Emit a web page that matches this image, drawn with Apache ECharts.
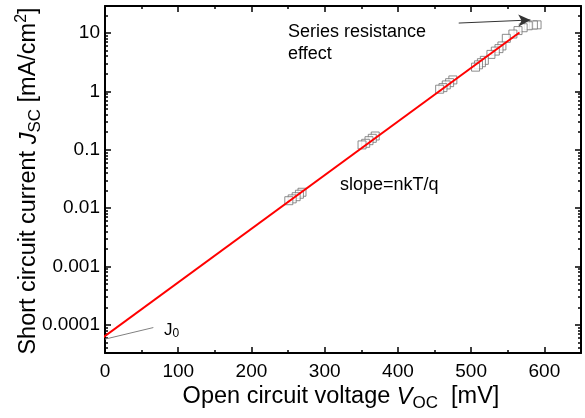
<!DOCTYPE html>
<html>
<head>
<meta charset="utf-8">
<script src="https://cdn.jsdelivr.net/npm/echarts@6/dist/echarts.min.js"></script>
<style>
  html, body { margin: 0; background: #fff; }
  #chart { width: 585px; height: 418px; }
</style>
</head>
<body>
<div id="chart"></div>
<script>
// measured points (Voc in mV, Jsc in mA/cm2)
const vocData = [251, 255.6, 261, 265.5, 269,
  351, 356, 360.5, 365, 369,
  457, 461.5, 466, 470.6, 475,
  506, 510, 514, 518,
  527, 533, 538, 542,
  548, 557, 564, 571, 578, 585, 590];
const jscData = [0.0134, 0.0144, 0.0157, 0.0173, 0.0187,
  0.121, 0.129, 0.143, 0.157, 0.172,
  1.09, 1.16, 1.29, 1.41, 1.57,
  2.6, 2.85, 3.1, 3.4,
  4.3, 4.9, 5.4, 6.0,
  8.1, 9.6, 11.0, 12.3, 13.3, 13.7, 13.8];

// fitted line end points
const fitVoc = [-11, 566];
const fitJsc = [5.1e-5, 10.2];

// annotation pointers
const arrowFrom = [483, 14.8];
const arrowTo = [581, 16.7];
const j0From = [0, 5.7e-5];
const j0To = [66, 9.0e-5];

const yTicks = [0.0001, 0.001, 0.01, 0.1, 1, 10];
const decades = [0.00001, 0.0001, 0.001, 0.01, 0.1, 1, 10];
const yMinor = [];
decades.forEach(d => {
  for (let k = 2; k <= 9; k++) yMinor.push(+(d * k).toPrecision(3));
});

const FONT = "'Liberation Sans', Arial, sans-serif";
const chart = echarts.init(document.getElementById('chart'));

const points = vocData.map((v, i) => [v, jscData[i]]).reverse();
const fitLine = fitVoc.map((v, i) => [v, fitJsc[i]]);

const yBase = {
  type: 'log',
  min: 3.3e-5,
  max: 29,
  splitLine: { show: false },
};

chart.setOption({
  animation: false,
  grid: { left: 105, right: 4, top: 6, bottom: 65 },
  xAxis: [{
    type: 'value',
    min: 0, max: 650, interval: 100,
    axisLine: { lineStyle: { color: '#000', width: 2 } },
    axisTick: { inside: true, length: 6, lineStyle: { color: '#000', width: 1.5 } },
    minorTick: { show: true, splitNumber: 2, length: 3, lineStyle: { color: '#000', width: 1.5 } },
    axisLabel: { color: '#000', fontSize: 19, fontFamily: FONT, margin: 9,
      formatter: v => (v % 100 === 0 ? String(v) : '') },
    splitLine: { show: false },
  }, {
    type: 'value', position: 'top',
    min: 0, max: 650, interval: 100,
    axisLine: { lineStyle: { color: '#000', width: 2 } },
    axisTick: { inside: true, length: 6, lineStyle: { color: '#000', width: 1.5 } },
    minorTick: { show: true, splitNumber: 2, length: 3, lineStyle: { color: '#000', width: 1.5 } },
    axisLabel: { show: false },
    splitLine: { show: false },
  }],
  yAxis: [Object.assign({}, yBase, {
    position: 'left',
    axisLine: { lineStyle: { color: '#000', width: 2 } },
    axisTick: { inside: true, length: 6, customValues: yTicks, lineStyle: { color: '#000', width: 1.5 } },
    axisLabel: { color: '#000', fontSize: 19, fontFamily: FONT, margin: 5,
      customValues: yTicks, formatter: v => String(v) },
  }), Object.assign({}, yBase, {
    position: 'left',
    axisLine: { show: false },
    axisTick: { inside: true, length: 3, customValues: yMinor, lineStyle: { color: '#000', width: 1.5 } },
    axisLabel: { show: false },
  }), Object.assign({}, yBase, {
    position: 'right',
    axisLine: { lineStyle: { color: '#000', width: 2 } },
    axisTick: { inside: true, length: 6, customValues: yTicks, lineStyle: { color: '#000', width: 1.5 } },
    axisLabel: { show: false },
  }), Object.assign({}, yBase, {
    position: 'right',
    axisLine: { show: false },
    axisTick: { inside: true, length: 3, customValues: yMinor, lineStyle: { color: '#000', width: 1.5 } },
    axisLabel: { show: false },
  })],
  series: [{
    type: 'scatter',
    data: points,
    symbol: 'rect',
    symbolSize: 8,
    itemStyle: { color: '#fff', borderColor: '#707070', borderWidth: 1 },
    z: 2,
    markLine: {
      silent: true,
      animation: false,
      label: { show: false },
      data: [
        [{ coord: arrowFrom, symbol: 'none', lineStyle: { color: '#333', width: 1, type: 'solid' } },
         { coord: arrowTo, symbol: 'arrow', symbolSize: [9, 12] }],
        [{ coord: j0From, symbol: 'none', lineStyle: { color: '#808080', width: 1, type: 'solid' } },
         { coord: j0To, symbol: 'none' }],
      ],
      lineStyle: { type: 'solid' },
      itemStyle: { color: '#000' },
    },
  }, {
    type: 'line',
    data: fitLine,
    symbol: 'none',
    clip: false,
    lineStyle: { color: '#ff0000', width: 2 },
    z: 3,
  }],
  graphic: [{
    type: 'text', x: 288, y: 43,
    style: { text: 'Series resistance\neffect', font: '18px ' + FONT, fill: '#000',
      textVerticalAlign: 'middle', lineHeight: 22 },
  }, {
    type: 'text', x: 340, y: 185,
    style: { text: 'slope=nkT/q', font: '18px ' + FONT, fill: '#000', textVerticalAlign: 'middle' },
  }, {
    type: 'text', x: 164, y: 330,
    style: {
      text: '{a|J}{s|0}',
      textVerticalAlign: 'middle',
      rich: {
        a: { fontSize: 17, fontFamily: FONT, lineHeight: 20, fill: '#000' },
        s: { fontSize: 12, fontFamily: FONT, lineHeight: 10, verticalAlign: 'bottom', fill: '#000' },
      },
    },
  }, {
    type: 'text', x: 341, y: 397,
    style: {
      text: '{a|Open circuit voltage }{i|V}{s|OC}{a|  [mV]}',
      textAlign: 'center', textVerticalAlign: 'middle',
      rich: {
        a: { fontSize: 23.5, fontFamily: FONT, lineHeight: 30, fill: '#000' },
        i: { fontSize: 23.5, fontFamily: FONT, fontStyle: 'italic', lineHeight: 30, fill: '#000' },
        s: { fontSize: 17, fontFamily: FONT, lineHeight: 15, verticalAlign: 'bottom', fill: '#000' },
      },
    },
  }, {
    type: 'text', x: 29, y: 181, rotation: Math.PI / 2,
    style: {
      text: '{a|Short circuit current }{i|J}{s|SC}{a| [mA/cm}{p|2}{a|]}',
      textAlign: 'center', textVerticalAlign: 'middle',
      rich: {
        a: { fontSize: 23.5, fontFamily: FONT, lineHeight: 30, fill: '#000' },
        i: { fontSize: 23.5, fontFamily: FONT, fontStyle: 'italic', lineHeight: 30, fill: '#000' },
        s: { fontSize: 17, fontFamily: FONT, lineHeight: 15, verticalAlign: 'bottom', fill: '#000' },
        p: { fontSize: 16, fontFamily: FONT, lineHeight: 15, verticalAlign: 'top', fill: '#000' },
      },
    },
  }],
});
</script>
</body>
</html>
